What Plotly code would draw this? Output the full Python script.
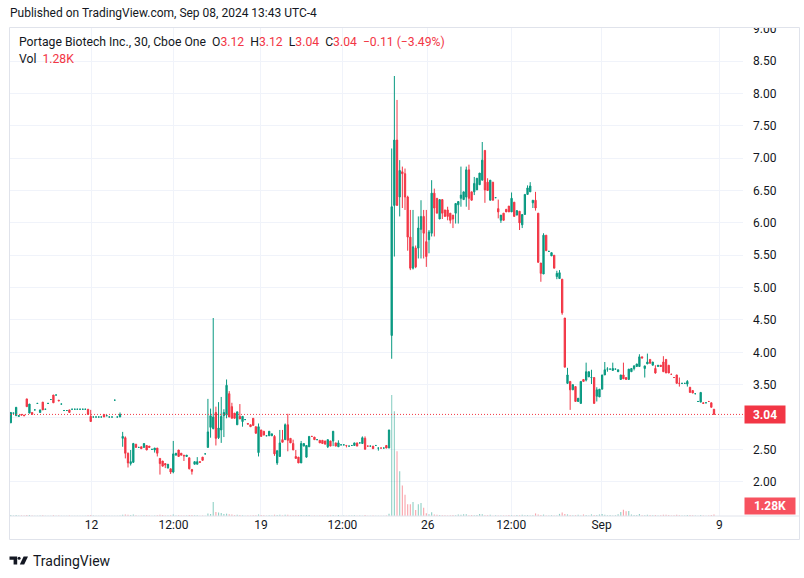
import plotly.graph_objects as go

# ---------------- data (30-min candles, Portage Biotech, Cboe One) ----------------
opens = [
    2.91, 3.06, 3.02, 3.01, 3.04, 3.03, 3.28, 3.06, 3.07, 3.11,
    3.21, 3.07, 3.23, 3.12, 3.21, 3.27, 3.34, 3.34, 3.26, 3.20,
    3.10, 3.10, 3.11, 3.12, 3.12, 3.12, 3.12, 3.12, 3.12, 3.12,
    3.01, 3.00, 3.00, 3.00, 3.00, 3.04, 3.02, 3.00, 3.00, 3.26,
    3.00, 3.00, 2.67, 2.68, 2.44, 2.28, 2.30, 2.58, 2.53, 2.54,
    2.53, 2.56, 2.55, 2.50, 2.49, 2.52, 2.36, 2.32, 2.28, 2.21,
    2.20, 2.15, 2.41, 2.49, 2.44, 2.41, 2.39, 2.37, 2.19, 2.27,
    2.27, 2.31, 2.38, 2.43, 2.53, 2.84, 2.82, 3.07, 2.68, 2.80,
    3.02, 3.03, 3.36, 3.16, 3.06, 2.88, 3.01, 2.93, 2.96, 2.90,
    2.88, 2.98, 2.85, 2.45, 2.80, 2.78, 2.71, 2.71, 2.71, 2.70,
    2.29, 2.39, 2.65, 2.65, 2.88, 2.67, 2.59, 2.39, 2.38, 2.29,
    2.55, 2.38, 2.54, 2.70, 2.69, 2.65, 2.64, 2.64, 2.63, 2.54,
    2.63, 2.63, 2.60, 2.54, 2.57, 2.57, 2.56, 2.55, 2.56, 2.56,
    2.60, 2.60, 2.59, 2.67, 2.55, 2.55, 2.55, 2.56, 2.52, 2.52,
    2.52, 2.56, 2.52, 4.26, 6.27, 7.28, 6.40, 6.79, 6.76, 6.40,
    5.78, 5.30, 5.61, 5.61, 5.90, 6.10, 5.71, 5.74, 5.84, 6.46,
    6.38, 6.06, 6.36, 6.20, 6.20, 6.15, 6.12, 6.15, 6.28, 6.38,
    6.36, 6.40, 6.82, 6.48, 6.48, 6.51, 6.59, 6.66, 7.12, 6.63,
    6.35, 6.63, 6.39, 6.22, 6.04, 6.15, 6.21, 6.26, 6.17, 6.32,
    6.12, 6.18, 5.97, 6.13, 6.44, 6.48, 6.31, 6.35, 6.15, 5.38,
    5.21, 5.81, 5.56, 5.49, 5.50, 5.17, 5.14, 5.13, 4.53, 3.52,
    3.55, 3.42, 3.47, 3.24, 3.21, 3.58, 3.57, 3.62, 3.61, 3.61,
    3.32, 3.31, 3.43, 3.65, 3.74, 3.74, 3.72, 3.74, 3.70, 3.58,
    3.65, 3.61, 3.58, 3.70, 3.75, 3.78, 3.78, 3.93, 3.75, 3.82,
    3.89, 3.80, 3.75, 3.78, 3.80, 3.85, 3.89, 3.80, 3.66, 3.61,
    3.65, 3.52, 3.52, 3.52, 3.51, 3.46, 3.41, 3.36, 3.24, 3.23,
    3.22, 3.22, 3.24, 3.22, 3.12,
]
highs = [
    3.07, 3.06, 3.15, 3.02, 3.04, 3.03, 3.28, 3.20, 3.07, 3.11,
    3.21, 3.11, 3.23, 3.12, 3.21, 3.27, 3.34, 3.34, 3.26, 3.20,
    3.10, 3.10, 3.11, 3.12, 3.12, 3.12, 3.12, 3.12, 3.12, 3.12,
    3.11, 3.00, 3.00, 3.00, 3.00, 3.04, 3.02, 3.00, 3.00, 3.26,
    3.00, 3.07, 2.77, 2.70, 2.45, 2.49, 2.60, 2.58, 2.53, 2.54,
    2.59, 2.56, 2.55, 2.50, 2.52, 2.52, 2.36, 2.32, 2.28, 2.27,
    2.20, 2.63, 2.44, 2.49, 2.44, 2.41, 2.41, 2.37, 2.19, 2.31,
    2.38, 2.31, 2.38, 2.43, 3.28, 3.13, 4.53, 3.16, 3.23, 3.31,
    3.12, 3.58, 3.40, 3.22, 3.06, 3.08, 3.20, 3.01, 2.96, 2.90,
    2.88, 2.98, 2.85, 2.90, 2.80, 2.78, 2.71, 2.78, 2.74, 2.72,
    2.48, 2.80, 2.80, 2.90, 3.05, 2.67, 2.65, 2.49, 2.38, 2.63,
    2.59, 2.56, 2.70, 2.70, 2.69, 2.65, 2.64, 2.64, 2.63, 2.65,
    2.63, 2.78, 2.60, 2.64, 2.57, 2.57, 2.56, 2.55, 2.56, 2.60,
    2.60, 2.60, 2.70, 2.70, 2.55, 2.55, 2.55, 2.56, 2.52, 2.52,
    2.52, 2.56, 2.80, 7.15, 8.27, 7.90, 6.97, 6.87, 6.84, 6.42,
    6.20, 6.20, 5.65, 6.10, 6.35, 6.20, 6.20, 5.89, 6.66, 6.53,
    6.38, 6.36, 6.36, 6.20, 6.25, 6.15, 6.12, 6.30, 6.33, 6.87,
    6.48, 6.87, 6.90, 6.48, 6.71, 6.69, 6.77, 7.25, 7.12, 6.69,
    6.66, 6.63, 6.39, 6.36, 6.12, 6.15, 6.21, 6.26, 6.47, 6.32,
    6.19, 6.18, 6.13, 6.44, 6.58, 6.63, 6.35, 6.48, 6.15, 5.38,
    5.84, 5.81, 5.56, 5.54, 5.50, 5.26, 5.27, 5.13, 4.53, 3.76,
    3.55, 3.50, 3.47, 3.29, 3.55, 3.58, 3.84, 3.70, 3.73, 3.61,
    3.46, 3.43, 3.65, 3.85, 3.77, 3.74, 3.84, 3.74, 3.73, 3.65,
    3.84, 3.61, 3.74, 3.75, 3.80, 3.82, 3.97, 3.93, 3.79, 3.98,
    3.89, 3.85, 3.80, 3.80, 3.80, 3.94, 3.89, 3.80, 3.66, 3.61,
    3.65, 3.61, 3.52, 3.52, 3.57, 3.46, 3.41, 3.36, 3.24, 3.38,
    3.22, 3.22, 3.24, 3.22, 3.12,
]
lows = [
    2.91, 3.06, 3.02, 3.01, 3.03, 3.02, 3.16, 3.06, 3.04, 3.11,
    3.21, 3.07, 3.11, 3.12, 3.21, 3.27, 3.22, 3.34, 3.25, 3.20,
    3.10, 3.10, 3.07, 3.12, 3.12, 3.12, 3.12, 3.12, 3.12, 3.04,
    2.93, 3.00, 3.00, 3.00, 3.00, 3.00, 3.02, 3.00, 3.00, 3.26,
    3.00, 3.00, 2.54, 2.36, 2.22, 2.25, 2.29, 2.53, 2.53, 2.51,
    2.53, 2.49, 2.53, 2.50, 2.45, 2.39, 2.11, 2.24, 2.21, 2.21,
    2.12, 2.13, 2.41, 2.39, 2.41, 2.32, 2.39, 2.19, 2.11, 2.27,
    2.27, 2.30, 2.33, 2.43, 2.53, 2.68, 2.81, 2.56, 2.66, 2.60,
    2.69, 2.98, 3.00, 2.98, 2.98, 2.88, 2.97, 2.85, 2.96, 2.89,
    2.85, 2.87, 2.74, 2.39, 2.70, 2.72, 2.71, 2.71, 2.71, 2.40,
    2.26, 2.39, 2.61, 2.65, 2.47, 2.60, 2.49, 2.36, 2.29, 2.29,
    2.55, 2.37, 2.54, 2.70, 2.65, 2.65, 2.60, 2.59, 2.58, 2.52,
    2.55, 2.55, 2.55, 2.54, 2.57, 2.57, 2.53, 2.55, 2.56, 2.56,
    2.55, 2.60, 2.59, 2.50, 2.55, 2.55, 2.51, 2.56, 2.48, 2.52,
    2.52, 2.52, 2.52, 3.90, 5.48, 6.27, 6.10, 6.23, 6.20, 5.57,
    5.27, 5.28, 5.30, 5.45, 5.45, 5.45, 5.32, 5.53, 5.79, 5.79,
    6.15, 6.06, 6.06, 6.10, 6.04, 5.99, 5.92, 5.99, 5.99, 6.25,
    6.36, 6.25, 6.20, 6.35, 6.43, 6.51, 6.59, 6.66, 6.31, 6.50,
    6.35, 6.35, 6.39, 6.07, 6.00, 6.04, 6.17, 6.17, 6.17, 6.10,
    6.12, 5.89, 5.92, 6.13, 6.44, 6.48, 6.23, 6.19, 5.39, 5.09,
    5.21, 5.57, 5.56, 5.49, 5.30, 5.13, 5.14, 4.58, 3.77, 3.51,
    3.11, 3.42, 3.24, 3.24, 3.21, 3.55, 3.55, 3.62, 3.51, 3.21,
    3.24, 3.31, 3.43, 3.65, 3.70, 3.74, 3.72, 3.74, 3.70, 3.58,
    3.59, 3.58, 3.58, 3.70, 3.72, 3.78, 3.78, 3.91, 3.61, 3.82,
    3.83, 3.80, 3.67, 3.78, 3.78, 3.70, 3.68, 3.68, 3.66, 3.61,
    3.52, 3.47, 3.52, 3.52, 3.47, 3.38, 3.37, 3.36, 3.24, 3.23,
    3.21, 3.22, 3.24, 3.15, 3.04,
]
closes = [
    3.07, 3.06, 3.15, 3.02, 3.03, 3.02, 3.16, 3.20, 3.04, 3.11,
    3.21, 3.11, 3.11, 3.12, 3.21, 3.27, 3.22, 3.34, 3.25, 3.20,
    3.10, 3.10, 3.07, 3.12, 3.12, 3.12, 3.12, 3.12, 3.12, 3.04,
    2.93, 3.00, 3.00, 3.00, 3.00, 3.00, 3.02, 3.00, 3.00, 3.26,
    3.00, 3.04, 2.70, 2.44, 2.29, 2.31, 2.59, 2.53, 2.53, 2.51,
    2.59, 2.49, 2.53, 2.50, 2.52, 2.44, 2.28, 2.24, 2.26, 2.27,
    2.15, 2.43, 2.44, 2.39, 2.41, 2.40, 2.41, 2.20, 2.16, 2.31,
    2.31, 2.30, 2.33, 2.43, 2.77, 3.02, 3.00, 2.67, 2.83, 3.01,
    3.07, 3.49, 3.00, 2.98, 2.98, 3.08, 2.97, 3.01, 2.96, 2.89,
    2.85, 2.87, 2.75, 2.85, 2.70, 2.72, 2.71, 2.78, 2.74, 2.43,
    2.48, 2.60, 2.61, 2.88, 2.64, 2.60, 2.49, 2.36, 2.29, 2.59,
    2.59, 2.56, 2.70, 2.70, 2.65, 2.65, 2.60, 2.59, 2.58, 2.65,
    2.55, 2.78, 2.55, 2.60, 2.57, 2.57, 2.56, 2.55, 2.56, 2.60,
    2.55, 2.60, 2.68, 2.50, 2.55, 2.55, 2.51, 2.56, 2.52, 2.52,
    2.52, 2.52, 2.80, 6.25, 7.28, 6.27, 6.81, 6.76, 6.40, 5.78,
    5.30, 5.63, 5.32, 5.92, 6.10, 5.84, 5.48, 5.86, 6.46, 6.23,
    6.15, 6.36, 6.15, 6.10, 6.10, 6.04, 6.06, 6.30, 6.33, 6.43,
    6.48, 6.82, 6.38, 6.35, 6.61, 6.69, 6.77, 6.97, 6.51, 6.50,
    6.66, 6.35, 6.39, 6.17, 6.12, 6.04, 6.17, 6.17, 6.38, 6.10,
    6.19, 6.00, 6.13, 6.44, 6.54, 6.57, 6.35, 6.23, 5.39, 5.22,
    5.81, 5.57, 5.56, 5.54, 5.30, 5.22, 5.23, 4.61, 3.77, 3.65,
    3.42, 3.50, 3.24, 3.29, 3.55, 3.55, 3.70, 3.70, 3.61, 3.21,
    3.42, 3.43, 3.65, 3.73, 3.74, 3.74, 3.75, 3.74, 3.73, 3.65,
    3.59, 3.58, 3.74, 3.75, 3.79, 3.82, 3.93, 3.91, 3.79, 3.85,
    3.83, 3.85, 3.68, 3.80, 3.78, 3.70, 3.68, 3.68, 3.66, 3.61,
    3.52, 3.52, 3.52, 3.52, 3.55, 3.38, 3.37, 3.36, 3.24, 3.38,
    3.21, 3.22, 3.24, 3.15, 3.04,
]
# unchanged-price bars that were drawn red (all other flat bars are green)
red_flat_bars = [113, 126, 134, 139, 248, 249, 251, 262]

volumes_k = [
    0.8, 0.4, 0.9, 0.4, 0.5, 0.4, 0.9, 0.8, 0.5, 0.3,
    0.3, 0.5, 0.6, 0.3, 0.3, 0.3, 0.7, 0.3, 0.4, 0.3,
    0.3, 0.3, 0.5, 0.3, 0.3, 0.3, 0.3, 0.3, 0.3, 0.6,
    0.9, 0.4, 0.3, 0.3, 0.3, 0.5, 0.3, 0.3, 0.3, 0.3,
    0.3, 0.5,
    1.0, 1.2, 1.1, 0.8, 1.2, 0.6, 0.3, 0.5, 0.7, 0.6,
    0.5, 0.3, 0.5, 0.7, 1.1, 0.8, 0.5, 0.5, 0.6, 1.3,
    0.5, 0.7, 0.4, 0.4, 0.4, 0.9, 0.8, 0.6, 0.6, 0.3,
    0.5, 0.3,
    2.2, 1.6, 12.0, 3.4, 3.0, 2.6, 1.7, 2.0, 1.5, 1.2, 0.8, 1.0, 0.9, 0.6, 0.3, 0.4,
    0.4, 0.6, 0.7, 1.3, 0.8, 0.6, 0.3, 0.7, 0.5, 1.1,
    0.9, 1.0, 0.5, 1.0, 1.1, 0.5, 0.7, 0.6, 0.8, 0.9,
    0.5, 0.7, 0.8, 0.3, 0.4, 0.3, 0.5, 0.4, 0.4, 0.5,
    0.4, 0.6, 0.3, 0.8, 0.3, 0.4, 0.3, 0.4, 0.5, 0.6,
    0.3, 0.5, 0.3, 0.8, 0.3, 0.3, 0.4, 0.3, 0.3, 0.3,
    0.3, 0.5, 2.0,
    103, 89, 55, 38, 26, 18, 10, 10, 12, 5, 10, 11, 7, 2.3, 1.5, 3.2,
    1.2, 1.0, 0.8, 0.7, 0.6, 0.5, 0.6, 0.9, 0.7, 1.3,
    1.0, 1.4, 1.5, 0.6, 0.8, 0.7, 0.9, 1.6, 1.5, 0.7,
    0.6, 1.0, 0.3, 0.6, 0.5, 0.5, 0.4, 0.5, 0.8, 0.7,
    0.4, 0.8, 0.6, 1.1, 0.7, 0.8, 0.5, 0.6, 2.2, 1.2,
    0.9, 1.2, 0.4, 0.5, 0.7, 0.5, 0.5, 1.8, 3.0, 1.6,
    1.4, 0.8, 0.6, 0.7, 1.0, 0.4, 1.3, 0.9, 0.5, 1.4,
    0.9, 0.8, 1.3, 1.6, 1.0, 0.6, 0.9, 0.5, 0.7, 1.5,
    3.4, 5.4, 4.0, 4.2,
    1.2, 0.9, 0.8, 1.6, 0.7, 0.6, 1.0, 0.8, 0.6, 0.9,
    0.5, 0.6, 1.0, 1.1, 0.9, 0.5, 0.6, 1.0, 0.7, 0.5,
    0.4, 0.8, 0.9, 0.7, 0.4, 0.3, 0.9, 0.4, 0.3, 0.4,
    0.8, 1.28,
]

# time-axis labels (bar index where each label sits)
tick_bars = [30.3, 61.1, 93.9, 124.5, 156.5, 187.9, 221.8, 266.0]
tick_labels = ["12", "12:00", "19", "12:00", "26", "12:00", "Sep", "9"]

price_ticks = [2.0, 2.5, 3.0, 3.5, 4.0, 4.5, 5.0, 5.5, 6.0, 6.5, 7.0, 7.5, 8.0, 8.5, 9.0]
last_price = 3.04
last_volume_label = "1.28K"
header = "Published on TradingView.com, Sep 08, 2024 13:43 UTC-4"
symbol_line = "Portage Biotech Inc., 30, Cboe One"
ohlc_text = [("O", "3.12"), ("H", "3.12"), ("L", "3.04"), ("C", "3.04")]
change_text = "\u22120.11 (\u22123.49%)"

n = len(closes)
assert len(opens) == n == len(highs) == len(lows) == len(volumes_k)

# ---------------- styling ----------------
GREEN = "#089981"
RED = "#f23645"
VOL_GREEN = "rgba(8,153,129,0.45)"
VOL_RED = "rgba(242,54,69,0.45)"
TXT = "#131722"
GRID = "#f0f3fa"
FONT = "Roboto, Arial, sans-serif"

W, H = 804, 578
PL, PR, PT, PB = 10, 743, 28, 516   # plot-area pixel box


def px(x):
    return (x - PL) / (PR - PL)


def py(y):
    return (PB - y) / (PB - PT)


bars = list(range(n))
is_up = [(closes[i] > opens[i]) or (closes[i] == opens[i] and i not in red_flat_bars)
         for i in bars]

fig = go.Figure()

# volume (behind candles)
fig.add_trace(go.Bar(
    x=bars, y=volumes_k, yaxis="y2", width=0.42,
    marker=dict(color=[VOL_GREEN if u else VOL_RED for u in is_up], line=dict(width=0)),
    hoverinfo="skip", showlegend=False,
))

for up_flag, col in [(True, GREEN), (False, RED)]:
    sel = [i for i in bars if is_up[i] == up_flag]
    fig.add_trace(go.Candlestick(
        x=sel,
        open=[opens[i] for i in sel], high=[highs[i] for i in sel],
        low=[lows[i] for i in sel], close=[closes[i] for i in sel],
        increasing=dict(line=dict(color=col, width=1), fillcolor=col),
        decreasing=dict(line=dict(color=col, width=1), fillcolor=col),
        whiskerwidth=0, hoverinfo="skip", showlegend=False,
    ))

shapes = []
# last price dotted line
shapes.append(dict(type="line", xref="paper", yref="y", x0=0, x1=1, y0=last_price, y1=last_price,
                   line=dict(color=RED, width=1, dash="1px,2px"), layer="above"))
# white band above the chart frame (clips the top price label like the original)
shapes.append(dict(type="rect", xref="paper", yref="paper",
                   x0=px(743), x1=px(804), y0=py(27.5), y1=py(0),
                   line=dict(width=0), fillcolor="white", layer="above"))
# outer frame
shapes.append(dict(type="rect", xref="paper", yref="paper",
                   x0=px(9.5), x1=px(799.5), y0=py(539.5), y1=py(27.5),
                   line=dict(color="#e0e3eb", width=1), fillcolor="rgba(0,0,0,0)", layer="above"))
# pane / time-scale separator
shapes.append(dict(type="line", xref="paper", yref="paper", x0=px(9.5), x1=px(799.5),
                   y0=py(516), y1=py(516), line=dict(color="#e0e3eb", width=1)))


def path(points):
    s = "M " + " L ".join(f"{px(a):.5f},{py(b):.5f}" for a, b in points) + " Z"
    return s


# TradingView logo (bottom-left)
shapes.append(dict(type="path", xref="paper", yref="paper",
                   path=path([(9.5, 556.5), (17.2, 556.5), (17.2, 564.5), (13.6, 564.5), (13.6, 559.8), (9.5, 559.8)]),
                   fillcolor=TXT, line=dict(width=0)))
shapes.append(dict(type="circle", xref="paper", yref="paper",
                   x0=px(17.6), x1=px(20.6), y0=py(559.8), y1=py(556.8),
                   fillcolor=TXT, line=dict(width=0)))
shapes.append(dict(type="path", xref="paper", yref="paper",
                   path=path([(23.6, 556.5), (28.0, 556.5), (24.2, 564.5), (19.8, 564.5)]),
                   fillcolor=TXT, line=dict(width=0)))

legend1 = symbol_line + "\u00a0\u00a0" + "\u00a0\u00a0".join(
    f"{k}<span style='color:{RED}'>{v}</span>" for k, v in ohlc_text) + \
    f"\u00a0\u00a0<span style='color:{RED}'>{change_text}</span>"
legend2 = f"Vol\u00a0\u00a0<span style='color:{RED}'>{last_volume_label}</span>"

annotations = [
    dict(text=header, x=px(8), y=py(12.5), xref="paper", yref="paper", xanchor="left", yanchor="middle",
         showarrow=False, font=dict(size=12, color=TXT, family=FONT)),
    dict(text=legend1, x=px(17), y=py(42), xref="paper", yref="paper", xanchor="left", yanchor="middle",
         showarrow=False, font=dict(size=12.2, color=TXT, family=FONT)),
    dict(text=legend2, x=px(17), y=py(59), xref="paper", yref="paper", xanchor="left", yanchor="middle",
         showarrow=False, font=dict(size=12.2, color=TXT, family=FONT)),
    dict(text=f"<b>{last_price:.2f}</b>", x=px(765), y=last_price, xref="paper", yref="y",
         xanchor="center", yanchor="middle", showarrow=False, width=40, height=17, borderpad=0,
         bgcolor=RED, font=dict(size=12, color="white", family=FONT)),
    dict(text=f"<b>{last_volume_label}</b>", x=px(770), y=py(505.5), xref="paper", yref="paper",
         xanchor="center", yanchor="middle", showarrow=False, width=50, height=16, borderpad=0,
         bgcolor="#f7525f", font=dict(size=12, color="white", family=FONT)),
    dict(text="TradingView", x=px(31), y=py(560.5), xref="paper", yref="paper", xanchor="left",
         yanchor="middle", showarrow=False, font=dict(size=14, color=TXT, family=FONT)),
]

# the 3.00 label is hidden behind the last-price badge, as in the original
price_tick_text = ["" if abs(v - last_price) < 0.1 else f"{v:.2f}" for v in price_ticks]

fig.update_layout(
    width=W, height=H,
    margin=dict(l=PL, r=W - PR, t=PT, b=H - PB),
    paper_bgcolor="white", plot_bgcolor="white",
    showlegend=False,
    font=dict(family=FONT, color=TXT, size=12),
    xaxis=dict(range=[-0.30, 274.89], tickmode="array", tickvals=tick_bars, ticktext=tick_labels,
               showgrid=True, gridcolor=GRID, gridwidth=1, zeroline=False, showline=False,
               ticks="", tickfont=dict(size=12, color=TXT), rangeslider=dict(visible=False),
               fixedrange=True),
    yaxis=dict(side="right", range=[1.470, 9.012], tickmode="array", tickvals=price_ticks,
               ticktext=price_tick_text, showgrid=True, gridcolor=GRID, gridwidth=1,
               zeroline=False, showline=False, ticks="", ticklabelstandoff=9,
               tickfont=dict(size=12, color=TXT), fixedrange=True),
    yaxis2=dict(overlaying="y", range=[0, 415], visible=False, fixedrange=True),
    shapes=shapes,
    annotations=annotations,
)

fig.write_html("out.html", config={"displayModeBar": False},
               post_script="document.body.style.margin='0px';document.body.style.padding='0px';")
